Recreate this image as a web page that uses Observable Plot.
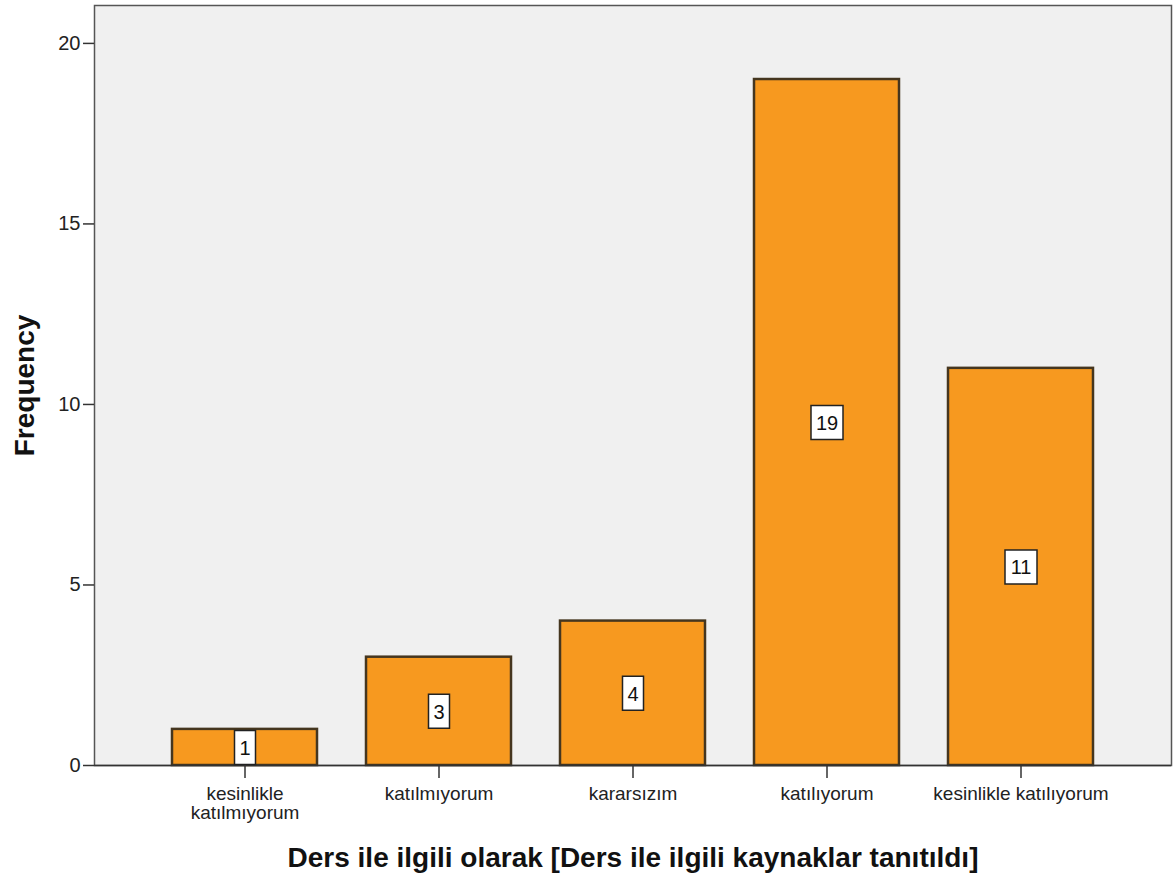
<!DOCTYPE html>
<html><head><meta charset="utf-8">
<script src="https://cdn.jsdelivr.net/npm/d3@7"></script>
<script src="https://cdn.jsdelivr.net/npm/@observablehq/plot@0.6"></script>
<style>
html,body{margin:0;padding:0;background:#fff;}
</style>
</head><body>
<div id="chart"></div>
<script>
const categories = ["kesinlikle katılmıyorum", "katılmıyorum", "kararsızım", "katılıyorum", "kesinlikle katılıyorum"];
const tickLabels = ["kesinlikle\nkatılmıyorum", "katılmıyorum", "kararsızım", "katılıyorum", "kesinlikle katılıyorum"];
const frequencies = [1, 3, 4, 19, 11];
const yTicks = [0, 5, 10, 15, 20];
const xTitle = "Ders ile ilgili olarak [Ders ile ilgili kaynaklar tanıtıldı]";
const yTitle = "Frequency";

const data = categories.map((c, i) => ({cat: c, n: frequencies[i], label: String(frequencies[i])}));
const labelMap = new Map(categories.map((c, i) => [c, tickLabels[i]]));

const box = (w, h) => ({draw(ctx) { ctx.rect(-w / 2, -h / 2, w, h); }});

const chart = Plot.plot({
  width: 1174,
  height: 882,
  marginLeft: 94,
  marginRight: 3,
  marginTop: 5,
  marginBottom: 117,
  style: {fontFamily: "'Liberation Sans', Arial, sans-serif", background: "#fff", color: "#222"},
  x: {type: "band", domain: categories, paddingInner: 0.254, paddingOuter: 0.4},
  y: {domain: [0, 21.05]},
  marks: [
    Plot.frame({fill: "#f0f0f0", stroke: "#555", strokeWidth: 1.5}),
    Plot.barY(data, {x: "cat", y: "n", fill: "#f7991f", stroke: "#45361f", strokeWidth: 2.5}),
    Plot.ruleY([0], {stroke: "#333", strokeWidth: 1.5}),
    Plot.dot(data.filter(d => d.label.length === 1), {x: "cat", y: d => d.n / 2, symbol: box(21, 34), r: 5, fill: "#fff", stroke: "#222", strokeWidth: 1.5}),
    Plot.dot(data.filter(d => d.label.length > 1), {x: "cat", y: d => d.n / 2, symbol: box(32, 34), r: 5, fill: "#fff", stroke: "#222", strokeWidth: 1.5}),
    Plot.text(data, {x: "cat", y: d => d.n / 2, text: "label", fontSize: 20, fill: "#111", dy: 1}),
    Plot.axisY({ticks: yTicks, tickSize: 11, tickPadding: 3, fontSize: 20, stroke: "#333", strokeWidth: 1.5,
      label: null}),
    Plot.axisX({tickSize: 13, tickPadding: 8, fontSize: 19, stroke: "#333", strokeWidth: 1.5, lineHeight: 1.0,
      tickFormat: d => labelMap.get(d), label: null}),
    Plot.text([yTitle], {frameAnchor: "left", dx: -69, rotate: -90, textAnchor: "middle", lineAnchor: "middle",
      fontSize: 28, fontWeight: "bold", fill: "#111"}),
    Plot.text([xTitle], {frameAnchor: "bottom", dy: 93, textAnchor: "middle", lineAnchor: "middle",
      fontSize: 28, fontWeight: "bold", fill: "#111"})
  ]
});
document.getElementById("chart").appendChild(chart);
</script>
</body></html>
